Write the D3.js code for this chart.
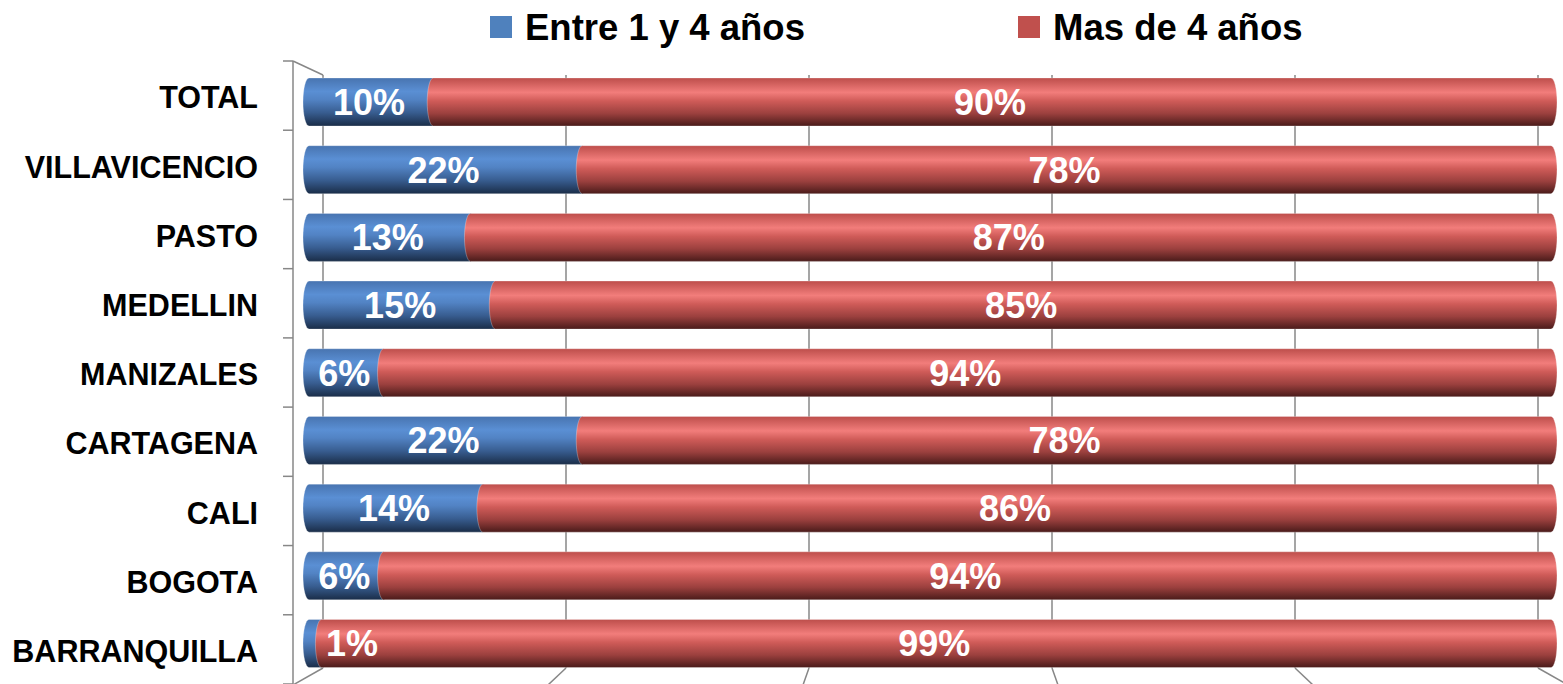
<!DOCTYPE html>
<html>
<head>
<meta charset="utf-8">
<script src="https://cdn.jsdelivr.net/npm/d3@7"></script>
<style>
  html, body { margin: 0; padding: 0; background: #ffffff; }
  svg { display: block; }
</style>
</head>
<body>
<svg id="chart" width="1563" height="684"></svg>
<script>
const categories = ["TOTAL", "VILLAVICENCIO", "PASTO", "MEDELLIN", "MANIZALES", "CARTAGENA", "CALI", "BOGOTA", "BARRANQUILLA"];
const entre1y4 = [10, 22, 13, 15, 6, 22, 14, 6, 1];
const masDe4 = [90, 78, 87, 85, 94, 78, 86, 94, 99];
const seriesNames = ["Entre 1 y 4 años", "Mas de 4 años"];
const gridTicks = [0, 20, 40, 60, 80, 100];

const W = 1563, H = 684;
const svg = d3.select("#chart");
const FONT = "'Liberation Sans', Arial, sans-serif";

const seriesColors = [
  { id: "gBlue", legend: "#4f81bd", stops: [["0%", "#4874b0"], ["28%", "#5a8fd4"], ["45%", "#5283c4"], ["72%", "#385d90"], ["100%", "#1a2d48"]] },
  { id: "gRed", legend: "#c0504d", stops: [["0%", "#bd4e4b"], ["30%", "#f27d7b"], ["48%", "#cf5b58"], ["74%", "#9b403e"], ["100%", "#4a1b1a"]] }
];

const defs = svg.append("defs");
seriesColors.forEach(c => {
  const g = defs.append("linearGradient").attr("id", c.id)
    .attr("x1", 0).attr("y1", 0).attr("x2", 0).attr("y2", 1);
  c.stops.forEach(s => g.append("stop").attr("offset", s[0]).attr("stop-color", s[1]));
});

// scales
const backX = d3.scaleLinear().domain([0, 100]).range([323, 1538]);   // back wall
const floorX = d3.scaleLinear().domain([0, 100]).range([293, 1568]);  // front edge of floor
const barX = d3.scaleLinear().domain([0, 100]).range([309, 1551]);    // bars (mid depth)
const frontY = d3.scaleBand().domain(categories).range([61, 684]);    // front axis
const barY = d3.scalePoint().domain(categories).range([102, 643.5]);  // bar centres
const barH = 48;
const backTop = 75, backBottom = 668;

const gridColor = "#878787";

// back wall gridlines
svg.append("g").selectAll("line").data(gridTicks).join("line")
  .attr("x1", d => backX(d)).attr("x2", d => backX(d))
  .attr("y1", backTop).attr("y2", backBottom)
  .attr("stroke", gridColor).attr("stroke-width", 1.5);

// floor lines (back wall bottom to front)
svg.append("g").selectAll("line").data(gridTicks).join("line")
  .attr("x1", d => backX(d)).attr("y1", backBottom)
  .attr("x2", d => floorX(d)).attr("y2", H + 1)
  .attr("stroke", gridColor).attr("stroke-width", 1.5);

// side wall top edge
svg.append("line")
  .attr("x1", floorX(0)).attr("y1", frontY.range()[0])
  .attr("x2", backX(0)).attr("y2", backTop)
  .attr("stroke", gridColor).attr("stroke-width", 1.5);

// front vertical axis with ticks
svg.append("line")
  .attr("x1", floorX(0)).attr("x2", floorX(0))
  .attr("y1", frontY.range()[0]).attr("y2", H)
  .attr("stroke", gridColor).attr("stroke-width", 1.5);
const tickYs = categories.map(c => frontY(c)).concat([frontY.range()[1]]);
svg.append("g").selectAll("line").data(tickYs).join("line")
  .attr("x1", floorX(0) - 10).attr("x2", floorX(0))
  .attr("y1", d => d).attr("y2", d => d)
  .attr("stroke", gridColor).attr("stroke-width", 1.5);

// category labels
svg.append("g").selectAll("text").data(categories).join("text")
  .attr("x", 258)
  .attr("y", d => frontY(d) + frontY.bandwidth() / 2 + 2)
  .attr("dy", "0.35em")
  .attr("text-anchor", "end")
  .attr("font-family", FONT).attr("font-weight", "bold").attr("font-size", 30.5)
  .attr("fill", "#000")
  .text(d => d);

// stacked data
const rows = categories.map((c, i) => ({ cat: c, vals: [entre1y4[i], masDe4[i]] }));
const segs = [];
rows.forEach(r => {
  let acc = 0;
  r.vals.forEach((v, s) => {
    segs.push({ cat: r.cat, s, v, x0: acc, x1: acc + v });
    acc += v;
  });
});

function cylPath(a, b, cy) {
  const t = cy - barH / 2, u = cy + barH / 2, rx = 6, ry = barH / 2;
  return `M${a},${t} L${b},${t} A${rx},${ry} 0 0 1 ${b},${u} L${a},${u} A${rx},${ry} 0 0 1 ${a},${t} Z`;
}

const barsG = svg.append("g");
barsG.selectAll("path").data(segs.slice().sort((p, q) => p.s - q.s)).join("path")
  .attr("d", d => cylPath(barX(d.x0), barX(d.x1), barY(d.cat)))
  .attr("fill", d => `url(#${seriesColors[d.s].id})`)
  .attr("stroke", "rgba(255,255,255,0.35)").attr("stroke-width", 0.8);

// data labels
svg.append("g").selectAll("text").data(segs).join("text")
  .attr("x", d => {
    const a = barX(d.x0), b = barX(d.x1);
    return (d.v < 3) ? a + 17 : (a + b) / 2 - 2;
  })
  .attr("y", d => barY(d.cat))
  .attr("dy", "0.36em")
  .attr("text-anchor", d => d.v < 3 ? "start" : "middle")
  .attr("font-family", FONT).attr("font-weight", "bold").attr("font-size", 36)
  .attr("fill", "#ffffff")
  .text(d => d.v + "%");

// legend
const legendX = [490, 1018];
const lg = svg.append("g").selectAll("g").data(seriesNames).join("g")
  .attr("transform", (d, i) => `translate(${legendX[i]},0)`);
lg.append("rect").attr("x", 0).attr("y", 16).attr("width", 22).attr("height", 22)
  .attr("fill", (d, i) => seriesColors[i].legend);
lg.append("text").attr("x", 35).attr("y", 40)
  .attr("font-family", FONT).attr("font-weight", "bold").attr("font-size", 36.5)
  .attr("fill", "#000")
  .text(d => d);
</script>
</body>
</html>
